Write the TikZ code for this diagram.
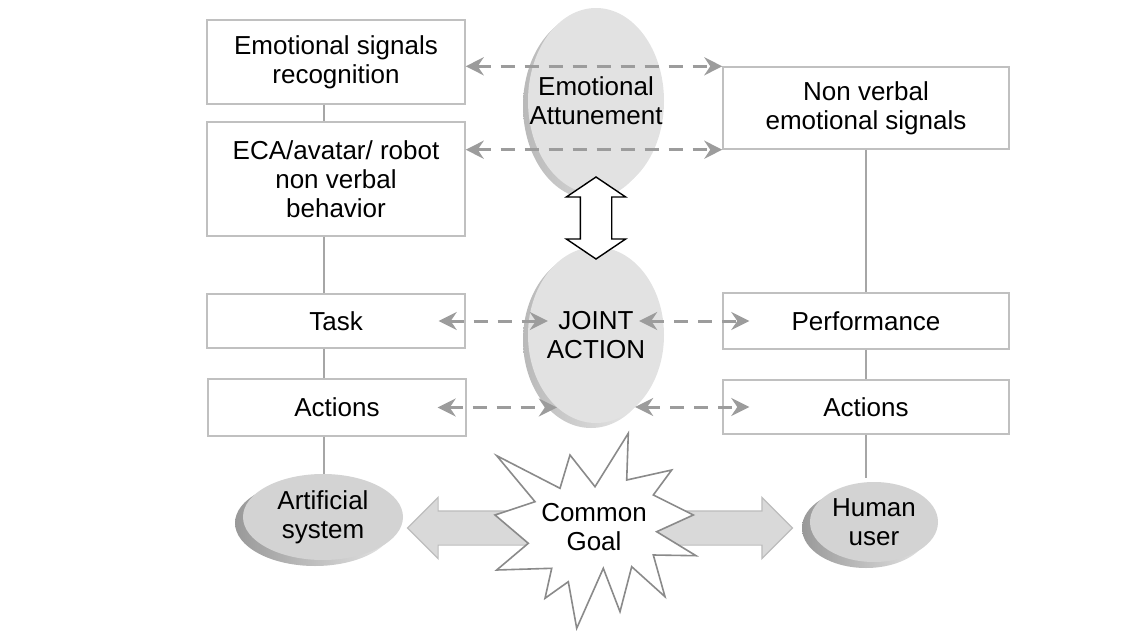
\documentclass[tikz,border=0pt]{standalone}
\usepackage{fontspec}
\setmainfont{Liberation Sans}
\usetikzlibrary{arrows.meta,shapes.geometric,shapes.arrows,calc}
\definecolor{boxgray}{HTML}{C0C0C0}
\definecolor{linkgray}{HTML}{A6A6A6}
\definecolor{dashgray}{HTML}{9C9C9C}
\definecolor{diskface}{HTML}{E2E2E2}
\definecolor{diskbase}{HTML}{D3D3D3}
\definecolor{sharefill}{HTML}{D9D9D9}
\definecolor{shareline}{HTML}{BDBDBD}
\definecolor{burstline}{HTML}{8A8A8A}

\begin{document}
\begin{tikzpicture}[x=1pt,y=1pt,yscale=-1,
  font=\fontsize{26}{29}\selectfont,
  box/.style={draw=boxgray,line width=1.4pt,fill=white,minimum width=258pt,inner sep=0pt,align=center},
  rbox/.style={box,minimum width=286pt},
  disk/.style={ellipse,fill=diskface,inner sep=0pt,
    preaction={left color=gray!55,right color=gray!12,transform canvas={xshift=-5pt,yshift=-5pt}}},
  tiltdisk/.style={ellipse,fill=diskbase,inner sep=0pt,
    preaction={left color=gray!80,right color=gray!20,transform canvas={xshift=-8pt,yshift=-6pt}}},
  link/.style={draw=linkgray,line width=1.4pt},
  dasharr/.style={draw=dashgray,line width=3pt,dash pattern=on 14pt off 10pt,
    {Stealth[length=18pt,width=18pt,inset=6pt]}-{Stealth[length=18pt,width=18pt,inset=6pt]}},
  burst/.style={draw=burstline,line width=1.6pt,fill=white,line join=miter},
]
\useasboundingbox (0,0) rectangle (1143,631);

% left column
\node[box,minimum height=84pt] (ecs) at (336,62) {Emotional signals\\recognition};
\node[box,minimum height=114pt] (eca) at (336,179) {ECA/avatar/ robot\\non verbal\\behavior};
\node[box,minimum height=54pt] (task) at (336,321) {Task};
\node[box,minimum height=57pt] (actl) at (337,407.5) {Actions};

% right column
\node[rbox,minimum height=82pt] (nves) at (866,108) {Non verbal\\emotional signals};
\node[rbox,minimum height=56pt] (perf) at (866,321) {Performance};
\node[rbox,minimum height=54pt] (actr) at (866,407) {Actions};

% middle
\node[disk,minimum width=136pt,minimum height=186pt,
  label={[align=center]center:Emotional\\Attunement}] (att) at (596,101) {};
\node[disk,minimum width=136pt,minimum height=176pt,
  label={[align=center]center:JOINT\\ACTION}] (joint) at (596,335) {};
\node[double arrow,draw=black,fill=white,line width=1.4pt,inner xsep=0pt,inner ysep=15pt,
  rotate=90,minimum height=82pt,double arrow head extend=14pt,
  double arrow tip angle=112] (attjoint) at (596,218) {};

\draw[dasharr] (ecs.east |- nves.north west) -- (nves.north west);
\draw[dasharr] (eca.east |- nves.south west) -- (nves.south west);
\draw[dasharr] ([xshift=-27pt]task.east) -- ($(joint.west |- task.east)+(20,0)$);
\draw[dasharr] ($(joint.east |- perf.west)+(-25,0)$) -- ([xshift=27pt]perf.west);
\draw[dasharr] ([xshift=-29pt]actl.east) -- ($(joint.west |- actl.east)+(29,0)$);
\draw[dasharr] ($(joint.east |- actr.west)+(-29,0)$) -- ([xshift=27pt]actr.west);

% bottom
\node[double arrow,fill=sharefill,draw=shareline,line width=1.2pt,inner xsep=0pt,inner ysep=16.5pt,
  minimum height=385pt,double arrow head extend=13.5pt] (share) at (600,528) {};
\draw[burst] (496.7,455.7) -- (560,488.3) -- (570,455) -- (595,486.7) -- (628.3,433.3)
  -- (626.7,480) -- (671.7,470) -- (653.3,495) -- (693.3,515) -- (656.7,531.7)
  -- (696,555.7) -- (653.3,555) -- (665,596.7) -- (631.7,566.7) -- (620,611.7)
  -- (603.3,568.3) -- (576.7,628.3) -- (568.3,581.7) -- (545,598.3) -- (551.7,568.3)
  -- (496.7,570) -- (528.3,543.3) -- (495,515) -- (535,501.7) -- cycle;
\node[align=center] (goal) at (594,527) {Common\\Goal};
\node[tiltdisk,minimum width=160pt,minimum height=86pt,
  label={[align=center]center:Artificial\\system}] (art) at (323,517) {};
\node[tiltdisk,minimum width=128pt,minimum height=80pt,
  label={[align=center]center:Human\\user}] (user) at (874,522) {};

% links
\draw[link] ([xshift=-12pt]ecs.south) -- ([xshift=-12pt]eca.north);
\draw[link] ([xshift=-12pt]eca.south) -- ([xshift=-12pt]task.north);
\draw[link] ([xshift=-12pt]task.south) -- ([xshift=-13pt]actl.north);
\draw[link] ([xshift=-13pt]actl.south) -- ([xshift=-13pt]actl.south |- art.north);
\draw[link] (nves) -- (perf);
\draw[link] (perf) -- (actr);
\draw[link] (actr.south) -- ([yshift=-4pt]actr.south |- user.north);
\end{tikzpicture}
\end{document}
